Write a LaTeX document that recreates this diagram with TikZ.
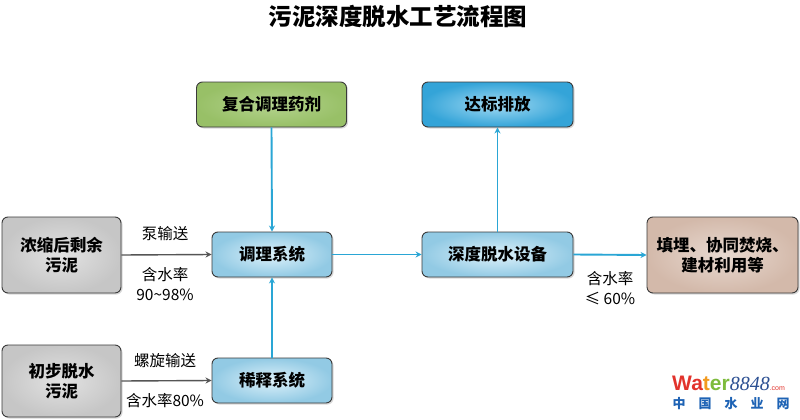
\documentclass[tikz,border=0pt]{standalone}
\usepackage{fontspec}
\setmainfont{Noto Sans CJK SC}
\newfontfamily\wmsans{Liberation Sans}
\newfontfamily\wmserif{Liberation Serif}
\usetikzlibrary{shadows,arrows.meta}
\definecolor{lnblue}{HTML}{2AA6D5}
\definecolor{lngray}{HTML}{555555}
\definecolor{bdr}{HTML}{3A3A3A}
\definecolor{gOut}{HTML}{98C067}
\definecolor{gIn}{HTML}{B4D38E}
\definecolor{bOut}{HTML}{92CAE4}
\definecolor{bIn}{HTML}{DDF1FA}
\definecolor{dOut}{HTML}{34A4D8}
\definecolor{dIn}{HTML}{A2DAF3}
\definecolor{yOut}{HTML}{C6C6C6}
\definecolor{yIn}{HTML}{E2E2E2}
\definecolor{tOut}{HTML}{D3B9AA}
\definecolor{tIn}{HTML}{E8D9D0}
\definecolor{wRed}{HTML}{E2332C}
\definecolor{wOrg}{HTML}{F29A1F}
\definecolor{wGrn}{HTML}{7DBB3C}
\definecolor{wDk}{HTML}{2B4F92}
\definecolor{wBlu}{HTML}{1E63B5}
\tikzset{
  box/.style={draw=bdr, line width=0.9pt, rounded corners=6pt, align=center,
    inner sep=2pt, font=\bfseries\fontsize{16.5}{20}\selectfont,
    drop shadow={shadow xshift=1.5pt, shadow yshift=-1.5pt, opacity=0.3}},
  greenbox/.style={box, shading=radial, inner color=gIn, outer color=gOut},
  bluebox/.style={box, shading=radial, inner color=bIn, outer color=bOut},
  darkbox/.style={box, shading=radial, inner color=dIn, outer color=dOut},
  graybox/.style={box, shading=radial, inner color=yIn, outer color=yOut},
  tanbox/.style={box, shading=radial, inner color=tIn, outer color=tOut},
  bluearrow/.style={draw=lnblue, line width=1.9pt, -{Stealth[length=6pt,width=6pt]}},
  grayarrow/.style={draw=lngray, line width=1.4pt, -{Stealth[length=6pt,width=6pt]}},
  lbl/.style={font=\fontsize{15.5}{20.5}\selectfont, align=center, inner sep=0pt}
}
\begin{document}
\begin{tikzpicture}[x=1pt,y=-1pt]
\useasboundingbox[fill=white] (0,0) rectangle (800,420);
\node[font=\bfseries\fontsize{23.5}{26}\selectfont] (title) at (398,17) {污泥深度脱水工艺流程图};

\node[greenbox, minimum width=150pt, minimum height=45pt] (fuhe) at (271.5,104.5) {复合调理药剂};
\node[darkbox, minimum width=151pt, minimum height=45pt] (dabiao) at (497.5,104.5) {达标排放};
\node[graybox, minimum width=119pt, minimum height=76pt] (nongsuo) at (61.5,255) {浓缩后剩余\\污泥};
\node[bluebox, minimum width=120pt, minimum height=45pt] (tiaoli) at (272,254.5) {调理系统};
\node[graybox, minimum width=119pt, minimum height=72pt] (chubu) at (61.5,381) {初步脱水\\污泥};
\node[bluebox, minimum width=120pt, minimum height=45pt] (xishi) at (272,380.5) {稀释系统};
\node[bluebox, minimum width=151pt, minimum height=45pt] (shendu) at (497.5,254.5) {深度脱水设备};
\node[tanbox, minimum width=151pt, minimum height=76pt] (tianmai) at (722.5,255) {填埋、协同焚烧、\\建材利用等};

\draw[bluearrow] (fuhe.south) -- (tiaoli.north);
\draw[bluearrow] (xishi.north) -- (tiaoli.south);
\draw[grayarrow] (nongsuo.east) -- (tiaoli.west);
\draw[grayarrow] (chubu.east) -- (xishi.west);
\draw[bluearrow] (tiaoli.east) -- (shendu.west);
\draw[bluearrow] (shendu.north) -- (dabiao.south);
\draw[bluearrow] (shendu.east) -- (tianmai.west);

\node[lbl] (l1) at (165,234) {泵输送};
\node[lbl] (l2) at (165,284) {含水率\\90\textasciitilde98\%};
\node[lbl] (l3) at (165,361) {螺旋输送};
\node[lbl] (l4) at (165,401) {含水率80\%};
\node[lbl] (l5) at (610,288) {含水率\\≤ 60\%};

\node[inner sep=0pt, anchor=west] (wm1) at (672,383) {{\wmsans\bfseries\fontsize{21}{21}\selectfont\textcolor{wRed}{Wa}\textcolor{wOrg}{t}\textcolor{wGrn}{er}}{\wmserif\itshape\fontsize{20}{20}\selectfont\textcolor{wDk}{8848}}{\wmsans\fontsize{7}{7}\selectfont\textcolor{wRed}{.com}}};
\node[inner sep=0pt, font=\bfseries\fontsize{13}{13}\selectfont, text=wBlu] (wm2) at (731,404) {中\hspace{13pt}国\hspace{13pt}水\hspace{13pt}业\hspace{13pt}网};
\end{tikzpicture}
\end{document}
